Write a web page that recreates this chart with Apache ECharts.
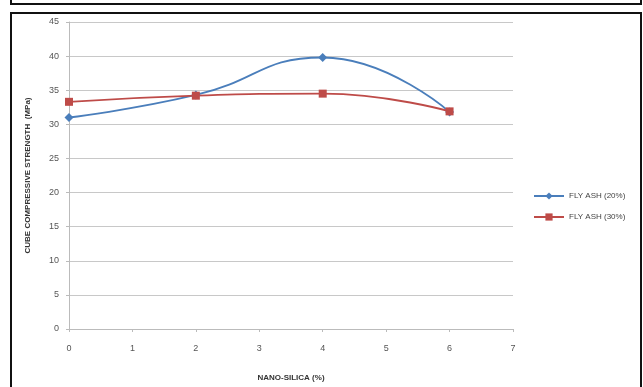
<!DOCTYPE html>
<html><head><meta charset="utf-8">
<script src="https://cdn.jsdelivr.net/npm/echarts@6/dist/echarts.min.js"></script>
<style>html,body{margin:0;padding:0;background:#fff}#c{width:643px;height:387px}</style>
</head><body><div id="c"></div>
<script>
const xValues = [0, 2, 4, 6];
const flyAsh20 = [31.0, 34.3, 39.8, 31.8];
const flyAsh30 = [33.3, 34.2, 34.5, 31.9];
const seriesNames = ['FLY ASH (20%)', 'FLY ASH (30%)'];
const xTicks = [0, 1, 2, 3, 4, 5, 6, 7];
const yTicks = [0, 5, 10, 15, 20, 25, 30, 35, 40, 45];

const chart = echarts.init(document.getElementById('c'), null, {renderer: 'canvas'});
const font = 'Liberation Sans Narrow, Liberation Sans';
chart.setOption({
  animation: false,
  backgroundColor: '#fff',
  graphic: [
    {type: 'rect', shape: {x: 11, y: 13, width: 630, height: 380}, style: {fill: 'none', stroke: '#111', lineWidth: 2}, z: 10},
    {type: 'rect', shape: {x: 11, y: -10, width: 630, height: 14}, style: {fill: 'none', stroke: '#111', lineWidth: 2}, z: 10}
  ],
  grid: {left: 69, right: 130, top: 22, bottom: 57},
  legend: {
    orient: 'vertical', left: 533, top: 192, padding: 0, itemGap: 13, itemWidth: 30, itemHeight: 9,
    textStyle: {fontFamily: font, fontSize: 8, color: '#444'},
    data: seriesNames
  },
  xAxis: {
    type: 'value', min: 0, max: 7, interval: 1,
    name: 'NANO-SILICA (%)', nameLocation: 'middle', nameGap: 45,
    nameTextStyle: {fontFamily: font, fontSize: 8, fontWeight: 'bold', color: '#333'},
    axisLine: {lineStyle: {color: '#bbb'}},
    axisTick: {show: true, length: 3, lineStyle: {color: '#bbb'}},
    axisLabel: {fontFamily: font, fontSize: 9, color: '#555', margin: 15,
      formatter: v => xTicks.includes(v) ? String(v) : ''},
    splitLine: {show: false}
  },
  yAxis: {
    type: 'value', min: 0, max: 45, interval: 5,
    name: 'CUBE COMPRESSIVE STRENGTH  (MPa)', nameLocation: 'middle', nameGap: 37, nameRotate: 90,
    nameTextStyle: {fontFamily: font, fontSize: 8, fontWeight: 'bold', color: '#333'},
    axisLine: {show: true, lineStyle: {color: '#bbb'}},
    axisTick: {show: true, length: 3, lineStyle: {color: '#bbb'}},
    axisLabel: {fontFamily: font, fontSize: 9, color: '#555', margin: 10,
      formatter: v => yTicks.includes(v) ? String(v) : ''},
    splitLine: {lineStyle: {color: '#c8c8c8'}}
  },
  series: [
    {name: seriesNames[0], type: 'line', smooth: 0.5, symbol: 'diamond', symbolSize: 9,
      data: xValues.map((x, i) => [x, flyAsh20[i]]),
      lineStyle: {color: '#4a7ebb', width: 1.8}, itemStyle: {color: '#4a7ebb'}},
    {name: seriesNames[1], type: 'line', smooth: 0.5, symbol: 'rect', symbolSize: 8,
      data: xValues.map((x, i) => [x, flyAsh30[i]]),
      lineStyle: {color: '#be4b48', width: 1.8}, itemStyle: {color: '#be4b48'}}
  ]
});
</script></body></html>
